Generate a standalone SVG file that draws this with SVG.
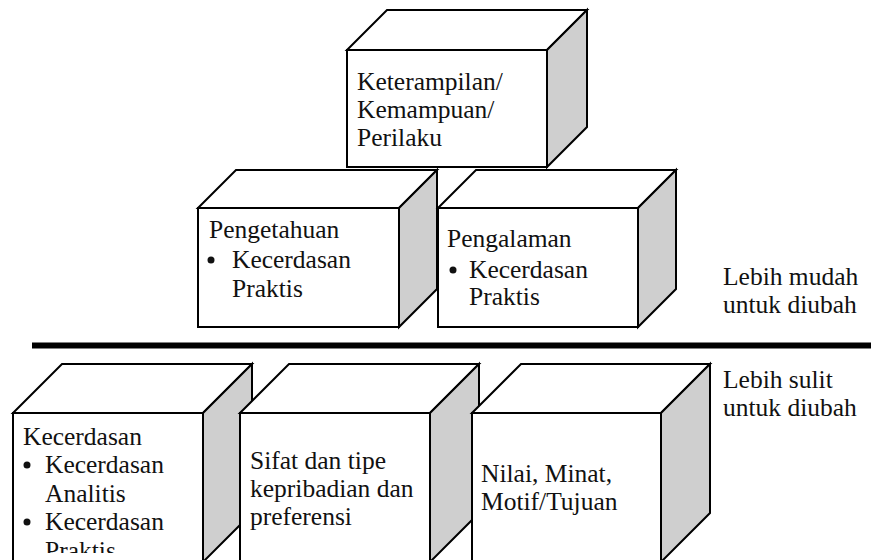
<svg xmlns="http://www.w3.org/2000/svg" width="871" height="560" viewBox="0 0 871 560">
<style>
.f{fill:#fff;stroke:#000;stroke-width:2;stroke-linejoin:miter}
.s{fill:#cfcfcf;stroke:#000;stroke-width:2}
.t{font-family:"Liberation Serif","Times New Roman",serif;font-size:25.5px;fill:#111}
.b{fill:#111}
</style>
<defs>
<clipPath id="clipK"><rect x="14" y="414" width="188" height="139"/></clipPath>
</defs>
<rect width="871" height="560" fill="#fff"/>
<g id="keterampilan">
<polygon class="f" points="347,50 387,10 587,10 547,50"/>
<polygon class="s" points="547,50 587,10 587,127 547,167"/>
<rect class="f" x="347" y="50" width="200" height="117"/>
<text class="t" x="357" y="90">Keterampilan/</text>
<text class="t" x="357" y="118">Kemampuan/</text>
<text class="t" x="357" y="146">Perilaku</text>
</g>
<g id="pengetahuan">
<polygon class="f" points="198,208 236,170 437,170 399,208"/>
<polygon class="s" points="399,208 437,170 437,289 399,327"/>
<rect class="f" x="198" y="208" width="201" height="119"/>
<text class="t" x="209" y="238">Pengetahuan</text>
<circle class="b" cx="211" cy="260" r="3.5"/>
<text class="t" x="232" y="268">Kecerdasan</text>
<text class="t" x="232" y="297">Praktis</text>
</g>
<g id="pengalaman">
<polygon class="f" points="438,208 476,170 676,170 638,208"/>
<polygon class="s" points="638,208 676,170 676,289 638,327"/>
<rect class="f" x="438" y="208" width="200" height="119"/>
<text class="t" x="447" y="247">Pengalaman</text>
<circle class="b" cx="453" cy="270" r="3.5"/>
<text class="t" x="469" y="278">Kecerdasan</text>
<text class="t" x="469" y="305">Praktis</text>
</g>
<g id="connectors">
<line x1="32" y1="345.5" x2="871" y2="345.5" stroke="#000" stroke-width="6"/>
</g>
<g id="label-mudah">
<text class="t" x="723" y="285">Lebih mudah</text>
<text class="t" x="723" y="313">untuk diubah</text>
</g>
<g id="label-sulit">
<text class="t" x="723" y="388">Lebih sulit</text>
<text class="t" x="723" y="416">untuk diubah</text>
</g>
<g id="kecerdasan">
<polygon class="f" points="13,413 62,364 252,364 203,413"/>
<polygon class="s" points="203,413 252,364 252,513 203,562"/>
<rect class="f" x="13" y="413" width="190" height="149"/>
<g clip-path="url(#clipK)">
<text class="t" x="23" y="445">Kecerdasan</text>
<circle class="b" cx="27" cy="465" r="3.5"/>
<text class="t" x="45" y="473">Kecerdasan</text>
<text class="t" x="45" y="502">Analitis</text>
<circle class="b" cx="27" cy="522" r="3.5"/>
<text class="t" x="45" y="530">Kecerdasan</text>
<text class="t" x="45" y="559">Praktis</text>
</g>
</g>
<g id="sifat">
<polygon class="f" points="240,413 289,364 479,364 430,413"/>
<polygon class="s" points="430,413 479,364 479,513 430,562"/>
<rect class="f" x="240" y="413" width="190" height="149"/>
<text class="t" x="250" y="469">Sifat dan tipe</text>
<text class="t" x="250" y="497">kepribadian dan</text>
<text class="t" x="250" y="525">preferensi</text>
</g>
<g id="nilai">
<polygon class="f" points="472,413 521,364 710,364 661,413"/>
<polygon class="s" points="661,413 710,364 710,513 661,562"/>
<rect class="f" x="472" y="413" width="189" height="149"/>
<text class="t" x="481" y="482">Nilai, Minat,</text>
<text class="t" x="481" y="510">Motif/Tujuan</text>
</g>
</svg>
